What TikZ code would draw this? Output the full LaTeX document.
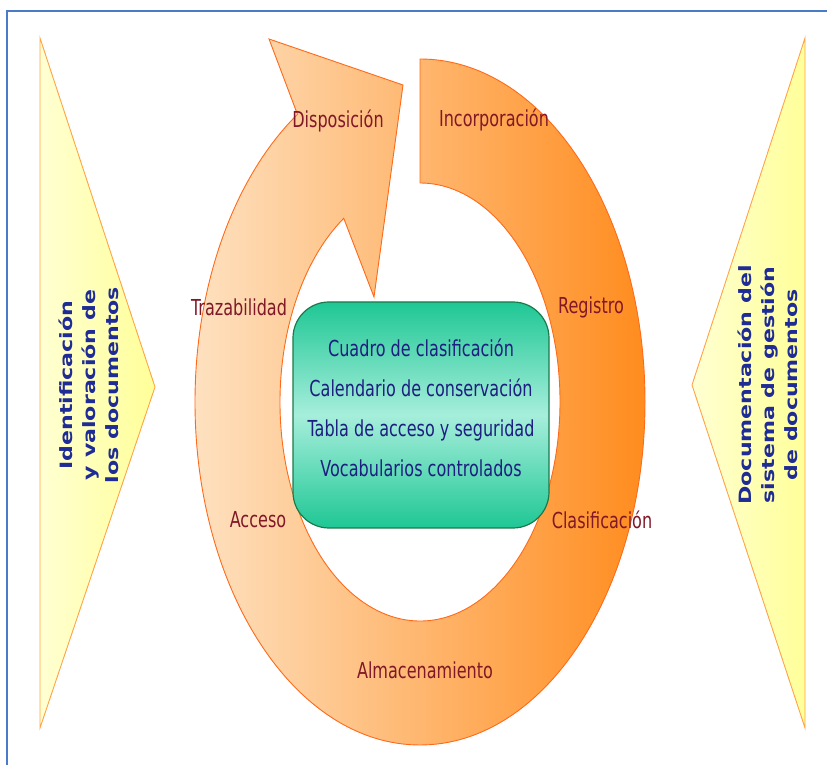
\documentclass[tikz,border=0pt]{standalone}
\usepackage{fontspec}
\usepackage{xcolor}
\newfontfamily\ringfont[FakeStretch=0.73]{DejaVu Sans}
\newfontfamily\sidefont[FakeStretch=1.3]{DejaVu Sans}
\definecolor{frameblue}{HTML}{4A7BC8}
\definecolor{sideyellow}{HTML}{FFFF99}
\definecolor{sidepale}{HTML}{FFFFD2}
\definecolor{sideedge}{HTML}{FFA347}
\definecolor{ringpeach}{HTML}{FEE1C0}
\definecolor{ringmid}{HTML}{FDC894}
\definecolor{ringorange}{HTML}{FF8C1E}
\definecolor{ringedge}{HTML}{FF6A1A}
\definecolor{boxgreen}{HTML}{1FC795}
\definecolor{boxpale}{HTML}{A6EEDB}
\definecolor{boxedge}{HTML}{1B7A4C}
\definecolor{textnavy}{HTML}{1E1E80}
\definecolor{textmaroon}{HTML}{801828}
\definecolor{sidetext}{HTML}{1F2C96}
\tikzset{
	sideshape/.style={draw=sideedge,line width=0.9pt},
	sidelabel/.style={rotate=90,align=center,text=sidetext,font=\sidefont\bfseries\fontsize{17}{23}\selectfont},
	ringlabel/.style={text=textmaroon,font=\ringfont\fontsize{22}{26}\selectfont},
	tablebox/.style={draw=boxedge,line width=1.2pt,rounded corners=36pt,top color=boxgreen,bottom color=boxgreen,middle color=boxpale},
	tablelabel/.style={align=center,text=textnavy,font=\ringfont\fontsize{22}{40}\selectfont}
}
\begin{document}
\begin{tikzpicture}[x=1pt,y=1pt]
			\useasboundingbox (0,0) rectangle (827,765);
			\draw[frameblue,line width=1.6pt] (7,0) -- (7,754) -- (827,754);
			\draw[sideshape,left color=sidepale,right color=sideyellow] (40,727) -- (155,378) -- (40,37) -- cycle;
			\draw[sideshape,left color=sidepale,right color=sideyellow] (805,727) -- (692,380) -- (805,37) -- cycle;
			\draw[ringedge,line width=0.9pt,left color=ringpeach,middle color=ringmid,right color=ringorange]
				(420,706) arc[start angle=90,end angle=-237,x radius=225,y radius=343]
				-- (269,726) -- (403,680) -- (374,468) -- (343.75,546.67)
				arc[start angle=123,end angle=450,x radius=140,y radius=219] -- cycle;
			\draw[tablebox] (293,237) rectangle (549,463);
			\node[tablelabel] (tables) at (421,357) {Cuadro de clasificación\\Calendario de conservación\\Tabla de acceso y seguridad\\Vocabularios controlados};
			\node[ringlabel] (disposicion) at (338,644) {Disposición};
			\node[ringlabel] (incorporacion) at (494,645) {Incorporación};
			\node[ringlabel] (registro) at (591,458) {Registro};
			\node[ringlabel] (clasificacion) at (602,245) {Clasificación};
			\node[ringlabel] (almacenamiento) at (425,95) {Almacenamiento};
			\node[ringlabel] (acceso) at (258,245) {Acceso};
			\node[ringlabel] (trazabilidad) at (239,458) {Trazabilidad};
			\node[sidelabel] (identificacion) at (89,380) {Identificación\\y valoración de\\los documentos};
			\node[sidelabel] (documentacion) at (768,380) {Documentación del\\sistema de gestión\\de documentos};
\end{tikzpicture}
\end{document}
